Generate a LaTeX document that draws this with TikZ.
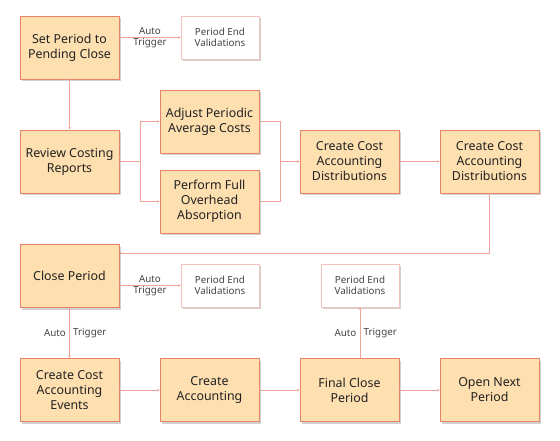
\documentclass[tikz,border=0pt]{standalone}
\usepackage{fontspec}
\setmainfont{Noto Sans}
\usetikzlibrary{arrows.meta,shadows,calc}
\definecolor{boxfill}{HTML}{FEDFB0}
\definecolor{boxline}{HTML}{E8836A}
\definecolor{conn}{HTML}{EFA396}
\definecolor{valline}{HTML}{F2C2BC}
\definecolor{txt}{HTML}{222222}
\definecolor{lbl}{HTML}{444444}
\begin{document}
\begin{tikzpicture}[x=1pt,y=-1pt,
  mainbox/.style={draw=boxline,fill=boxfill,line width=0.9pt,minimum width=99pt,minimum height=63pt,
    align=center,text=txt,font=\fontsize{12.4}{15}\selectfont,inner sep=2pt,
    drop shadow={shadow xshift=1.5pt,shadow yshift=-2pt,fill=black,opacity=0.18}},
  valbox/.style={draw=valline,fill=white,line width=0.9pt,minimum width=78pt,minimum height=43pt,
    align=center,text=lbl,font=\fontsize{9.8}{11.5}\selectfont,inner sep=2pt,
    drop shadow={shadow xshift=1.5pt,shadow yshift=-2pt,fill=black,opacity=0.18}},
  conline/.style={draw=conn,line width=1pt},
  arr/.style={conline,-{Stealth[length=2.5pt,width=2.5pt]}},
  lab/.style={text=lbl,font=\fontsize{9.8}{11}\selectfont,align=center,inner sep=0pt}
]
\useasboundingbox (0,0) rectangle (560,440);

\node[mainbox] (setp) at (69.5,47.5) {Set Period to\\Pending Close};
\node[valbox] (val1) at (220,37.5) {Period End\\Validations};
\node[mainbox] (review) at (69.5,161.5) {Review Costing\\Reports};
\node[mainbox] (adjust) at (209.5,121.5) {Adjust Periodic\\Average Costs};
\node[mainbox] (perform) at (209.5,201.5) {Perform Full\\Overhead\\Absorption};
\node[mainbox] (ccad1) at (349.5,161.5) {Create Cost\\Accounting\\Distributions};
\node[mainbox] (ccad2) at (489.5,161.5) {Create Cost\\Accounting\\Distributions};
\node[mainbox] (close) at (69.5,276) {Close Period};
\node[valbox] (val2) at (220,285.5) {Period End\\Validations};
\node[mainbox] (ccae) at (69.5,390) {Create Cost\\Accounting\\Events};
\node[mainbox] (ca) at (209.5,390) {Create\\Accounting};
\node[mainbox] (fcp) at (349.5,390) {Final Close\\Period};
\node[mainbox] (onp) at (489.5,390) {Open Next\\Period};
\node[valbox] (val3) at (360,285.5) {Period End\\Validations};

% connectors
\draw[arr] (setp.east |- val1.west) -- node[lab] (l1) {Auto\\Trigger} (val1.west);
\draw[arr] (setp.south) -- (review.north);
\coordinate (split) at (140,161.5);
\draw[conline] (review.east) -- (split);
\draw[arr] (split) |- (adjust.west);
\draw[arr] (split) |- (perform.west);
\coordinate (join) at (280,161.5);
\draw[conline] (adjust.east) -| (join);
\draw[conline] (perform.east) -| (join);
\draw[arr] (join) -- (ccad1.west);
\draw[arr] (ccad1.east) -- (ccad2.west);
\coordinate (closein) at ([yshift=-9pt]close.north east);
\draw[arr] (ccad2.south) |- (closein);
\draw[arr] (close.east |- val2.west) -- node[lab] (l2) {Auto\\Trigger} (val2.west);
\draw[arr] (close.south) -- (ccae.north);
\coordinate (m1) at (69.5,333);
\node[lab,anchor=east] (l3a) at ([xshift=-3.5pt]m1) {Auto};
\node[lab,anchor=west] (l3b) at ([xshift=3.5pt]m1) {Trigger};
\draw[arr] (ccae.east) -- (ca.west);
\draw[arr] (ca.east) -- (fcp.west);
\draw[arr] (fcp.east) -- (onp.west);
\coordinate (fcpup) at (fcp.north -| val3.south);
\draw[arr] (fcpup) -- (val3.south);
\coordinate (m2) at (360,333);
\node[lab,anchor=east] (l4a) at ([xshift=-3.5pt]m2) {Auto};
\node[lab,anchor=west] (l4b) at ([xshift=3.5pt]m2) {Trigger};
\end{tikzpicture}
\end{document}
